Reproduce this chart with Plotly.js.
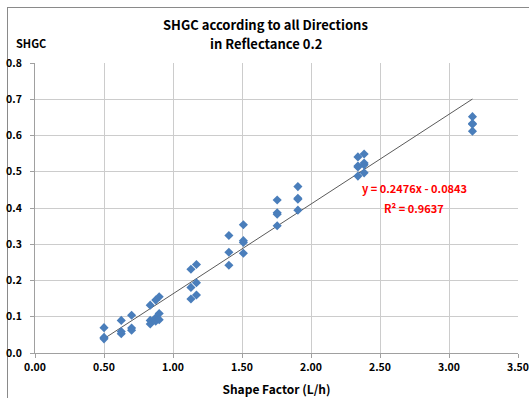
<!DOCTYPE html>
<html>
<head>
<meta charset="utf-8">
<script src="https://cdn.plot.ly/plotly-3.0.1.min.js"></script>
<style>
  html, body { margin: 0; padding: 0; background: #ffffff; }
  #frame { position: absolute; left: 7px; top: 7px; width: 530px; height: 400px;
           border-left: 1px solid #8a8a8a; border-top: 1px solid #8a8a8a; }
  #chart { position: absolute; left: 0; top: 0; width: 529px; height: 398px; }
</style>
</head>
<body>
<div id="frame"></div>
<div id="chart"></div>
<script>
// Shape factor (L/h) for each point
const shapeFactor = [
  0.5, 0.5, 0.5,
  0.625, 0.625, 0.625,
  0.70, 0.70, 0.70,
  0.835, 0.835, 0.835,
  0.875, 0.875, 0.875,
  0.90, 0.90, 0.90,
  1.13, 1.13, 1.13,
  1.17, 1.17, 1.17,
  1.405, 1.405, 1.405,
  1.51, 1.51, 1.51, 1.51,
  1.755, 1.755, 1.755, 1.755,
  1.905, 1.905, 1.905, 1.905,
  2.34, 2.34, 2.34, 2.34,
  2.385, 2.385, 2.385, 2.385,
  3.17, 3.17, 3.17, 3.17
];
// SHGC value for each point
const shgc = [
  0.070, 0.043, 0.039,
  0.090, 0.059, 0.053,
  0.104, 0.069, 0.063,
  0.132, 0.090, 0.080,
  0.146, 0.097, 0.088,
  0.155, 0.109, 0.092,
  0.231, 0.181, 0.149,
  0.244, 0.194, 0.160,
  0.324, 0.278, 0.242,
  0.354, 0.310, 0.305, 0.275,
  0.422, 0.387, 0.383, 0.351,
  0.459, 0.427, 0.424, 0.394,
  0.541, 0.516, 0.513, 0.488,
  0.549, 0.524, 0.519, 0.497,
  0.652, 0.633, 0.631, 0.612
];
// Linear trendline coefficients (as printed on the chart)
const slope = 0.2476;
const intercept = -0.0843;
const rSquared = 0.9637;

const xTickVals = [0, 0.5, 1.0, 1.5, 2.0, 2.5, 3.0, 3.5];
const xTickText = ["0.00", "0.50", "1.00", "1.50", "2.00", "2.50", "3.00", "3.50"];
const yTickVals = [0, 0.1, 0.2, 0.3, 0.4, 0.5, 0.6, 0.7, 0.8];
const yTickText = ["0.0", "0.1", "0.2", "0.3", "0.4", "0.5", "0.6", "0.7", "0.8"];

const titleLine1 = "SHGC according to all Directions";
const titleLine2 = "in Reflectance 0.2";
const yLabel = "SHGC";
const xLabel = "Shape Factor (L/h)";

const FONT = "'Noto Sans CJK KR', 'Noto Sans', sans-serif";

const xMin = Math.min(...shapeFactor);
const xMax = Math.max(...shapeFactor);
const trendX = [xMin, xMax];
const trendY = trendX.map(v => slope * v + intercept);

const data = [
  {
    x: trendX, y: trendY, type: "scatter", mode: "lines",
    line: { color: "#5a5a5a", width: 1 }, hoverinfo: "skip"
  },
  {
    x: shapeFactor, y: shgc, type: "scatter", mode: "markers",
    marker: { symbol: "diamond", size: 7, color: "#4a7ebb" }
  }
];

// plot area spans 63..353 px vertically (290 px)
const pyToPaper = py => (353 - py) / 290;

const layout = {
  width: 529, height: 398,
  margin: { l: 35, r: 11, t: 63, b: 45 },
  paper_bgcolor: "rgba(0,0,0,0)",
  plot_bgcolor: "#ffffff",
  showlegend: false,
  font: { family: FONT, color: "#000000" },
  xaxis: {
    range: [0, 3.5], tickvals: xTickVals, ticktext: xTickText,
    showgrid: true, gridcolor: "#cccccc", gridwidth: 1,
    showline: true, linecolor: "#a0a0a0", linewidth: 1,
    ticks: "outside", ticklen: 4, tickcolor: "#a0a0a0",
    ticklabeloverflow: "allow",
    tickfont: { family: FONT, size: 10.5, color: "#000000", weight: "bold" },
    zeroline: false,
    title: { text: "<b>" + xLabel + "</b>", font: { family: FONT, size: 12, color: "#000000" }, standoff: 13 }
  },
  yaxis: {
    range: [0, 0.8], tickvals: yTickVals, ticktext: yTickText,
    showgrid: true, gridcolor: "#cccccc", gridwidth: 1,
    showline: true, linecolor: "#a0a0a0", linewidth: 1,
    ticks: "outside", ticklen: 4, tickcolor: "#a0a0a0",
    ticklabelstandoff: 6,
    tickfont: { family: FONT, size: 10.5, color: "#000000", weight: "bold" },
    zeroline: false
  },
  annotations: [
    {
      xref: "paper", yref: "paper", x: 0.478, y: pyToPaper(25), xanchor: "center", yanchor: "middle",
      text: "<b>" + titleLine1 + "</b>", showarrow: false,
      font: { family: FONT, size: 13, color: "#000000" }
    },
    {
      xref: "paper", yref: "paper", x: 0.478, y: pyToPaper(43.5), xanchor: "center", yanchor: "middle",
      text: "<b>" + titleLine2 + "</b>", showarrow: false,
      font: { family: FONT, size: 13, color: "#000000" }
    },
    {
      xref: "paper", yref: "paper", x: -0.043, y: 1.07, xanchor: "left", yanchor: "middle",
      text: "<b>" + yLabel + "</b>", showarrow: false,
      font: { family: FONT, size: 11, color: "#000000" }
    },
    {
      xref: "x", yref: "y", x: 2.75, y: 0.455, xanchor: "center", yanchor: "middle",
      text: "<b>y = " + slope.toFixed(4) + "x - " + Math.abs(intercept).toFixed(4) + "</b>",
      showarrow: false, font: { family: FONT, size: 11, color: "#ff0000" }
    },
    {
      xref: "x", yref: "y", x: 2.745, y: 0.40, xanchor: "center", yanchor: "middle",
      text: "<b>R² = " + rSquared.toFixed(4) + "</b>",
      showarrow: false, font: { family: FONT, size: 11, color: "#ff0000" }
    }
  ]
};

Plotly.newPlot("chart", data, layout, { displayModeBar: false, staticPlot: true });
</script>
</body>
</html>
